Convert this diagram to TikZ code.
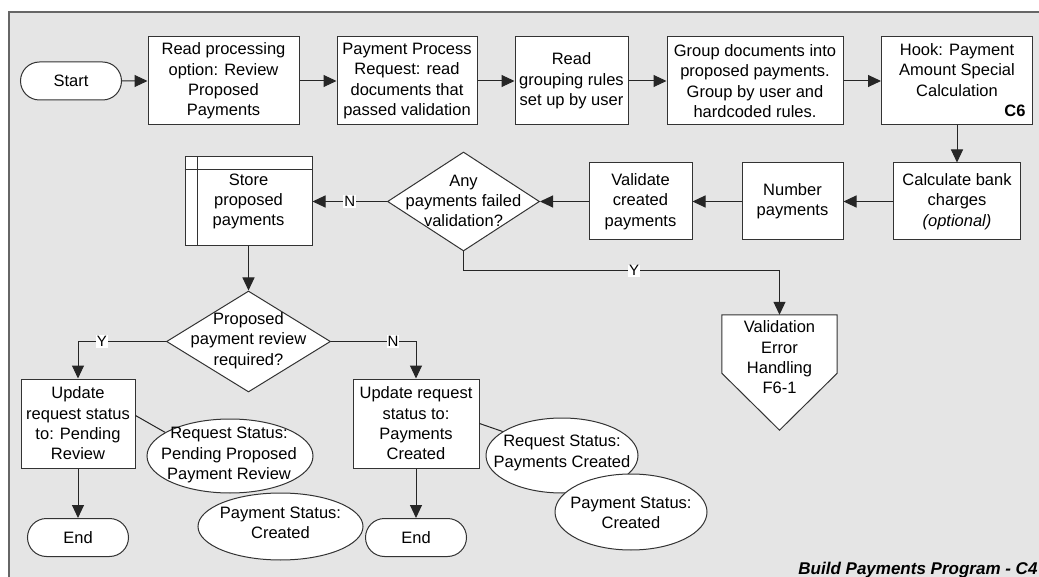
\documentclass[tikz,border=0pt]{standalone}
\usepackage{fontspec}
\setmainfont{Liberation Sans}
\usetikzlibrary{shapes.geometric,shapes.misc,arrows.meta}
\begin{document}
\begin{tikzpicture}[x=1pt,y=-1pt,
  every node/.style={font=\fontsize{16.5}{20.3}\selectfont, align=center},
  proc/.style={draw=black!80, fill=white, line width=1pt, rectangle, inner sep=0pt},
  term/.style={draw=black!80, fill=white, line width=1pt, rounded rectangle, inner sep=0pt,
               minimum width=101pt, minimum height=38pt},
  dec/.style={draw=black!80, fill=white, line width=1pt, diamond, inner sep=0pt},
  stat/.style={draw=black!80, fill=white, line width=1pt, ellipse, inner sep=0pt},
  flow/.style={draw=black!85, line width=1pt, -{Triangle[length=13pt,width=12pt]}},
  link/.style={draw=black!85, line width=1pt},
  lbl/.style={fill=white, inner sep=1pt, font=\fontsize{15}{18}\selectfont},
]
\path[use as bounding box] (0,0) rectangle (1039,577);

% page frame
\draw[fill=black!10, draw=black!60, line width=1.5pt] (9,12) rectangle (1060,600);

% top row
\node[term] (start) at (71,81) {Start};
\node[proc, minimum width=151pt, minimum height=88pt] (b1) at (223.5,81)
  {Read processing\\option: Review\\Proposed\\Payments};
\node[proc, minimum width=140pt, minimum height=88pt] (b2) at (407,81)
  {Payment Process\\Request: read\\documents that\\passed validation};
\node[proc, minimum width=113pt, minimum height=88pt] (b3) at (571.5,81)
  {Read\\grouping rules\\set up by user};
\node[proc, minimum width=176pt, minimum height=88pt] (b4) at (755,81)
  {Group documents into\\proposed payments.\\Group by user and\\hardcoded rules.};
\node[proc, minimum width=151pt, minimum height=88pt] (b5) at (957,81) {};
\node (b5t) at (957,70) {Hook: Payment\\Amount Special\\Calculation};
\node[anchor=base east, font=\bfseries\fontsize{16.5}{20}\selectfont] (c6) at (1029,117) {C6};

% second row
\node[proc, minimum width=127pt, minimum height=77pt] (calc) at (957,201.5)
  {Calculate bank\\charges\\\textit{(optional)}};
\node[proc, minimum width=101pt, minimum height=77pt] (num) at (792.5,201.5)
  {Number\\payments};
\node[proc, minimum width=103pt, minimum height=77pt] (val) at (640.5,201.5)
  {Validate\\created\\payments};
\node[dec, minimum width=152pt, minimum height=99pt] (d1) at (463.5,201.5) {};
\node (d1t) at (463.5,201) {Any\\payments failed\\validation?};
\node[proc, minimum width=127pt, minimum height=89pt] (st) at (248.5,201.5)
  {Store\\proposed\\payments};
\draw[draw=black!80, line width=1pt]
  ([yshift=-13pt]st.north west) -- ([yshift=-13pt]st.north east)
  ([xshift=13pt]st.north west) -- ([xshift=13pt]st.south west);

% validation error off-page connector
\node[minimum width=115pt, minimum height=58pt, inner sep=0pt] (veh) at (779.5,344) {};
\draw[draw=black!80, fill=white, line width=1pt]
  (veh.north west) -- (veh.north east) -- (veh.south east)
  -- ([yshift=-57pt]veh.south) -- (veh.south west) -- cycle;
\node (veht) at (779.5,357.5) {Validation\\Error\\Handling\\F6-1};

% review decision
\node[dec, minimum width=164pt, minimum height=101pt] (d2) at (248.5,341.5) {};
\node (d2t) at (248.5,340.5) {Proposed\\payment review\\required?};

% status updates
\node[proc, minimum width=114pt, minimum height=89pt] (u1) at (78,423.5)
  {Update\\request status\\to: Pending\\Review};
\node[proc, minimum width=126pt, minimum height=89pt] (u2) at (416,423.5)
  {Update request\\status to:\\Payments\\Created};
\node[term] (end1) at (78,537.5) {End};
\node[term] (end2) at (416,537.5) {End};

% connectors
\draw[flow] (start) -- (b1);
\draw[flow] (b1) -- (b2);
\draw[flow] (b2) -- (b3);
\draw[flow] (b3) -- (b4);
\draw[flow] (b4) -- (b5);
\draw[flow] (b5) -- (calc);
\draw[flow] (calc) -- (num);
\draw[flow] (num) -- (val);
\draw[flow] (val) -- (d1);
\draw[flow] (d1) -- node[lbl]{N} (st);
\draw[flow] (d1.south) |- node[lbl, pos=0.77]{Y} ([yshift=44pt]veh.north) -- (veh.north);
\draw[flow] (st) -- (d2);
\draw[flow] (d2.west) -| node[lbl, pos=0.365]{Y} (u1.north);
\draw[flow] (d2.east) -| node[lbl, pos=0.365]{N} (u2.north);
\draw[flow] (u1) -- (end1);
\draw[flow] (u2) -- (end2);

% status annotations
\node[stat, minimum width=166pt, minimum height=74pt] (e1) at (230,456) {};
\draw[link] ([yshift=8pt]u1.east) -- (e1.160);
\node (e1t) at (229,455) {Request Status:\\Pending Proposed\\Payment Review};
\node[stat, minimum width=165pt, minimum height=67pt] (e2) at (280.5,526.5) {};
\node (e2t) at (280.5,522.5) {Payment Status:\\Created};
\node[stat, minimum width=152pt, minimum height=75pt] (e3) at (562,455.5) {};
\draw[link] (u2.east) -- (e3.158);
\node (e3t) at (562,453) {Request Status:\\Payments Created};
\node[stat, minimum width=152pt, minimum height=76pt] (e4) at (631,512) {};
\node (e4t) at (631,512.5) {Payment Status:\\Created};

% title
\node[anchor=base east, font=\bfseries\itshape\fontsize{17}{20}\selectfont] (ttl) at (1041,574)
  {Build Payments Program - C4};
\end{tikzpicture}
\end{document}
